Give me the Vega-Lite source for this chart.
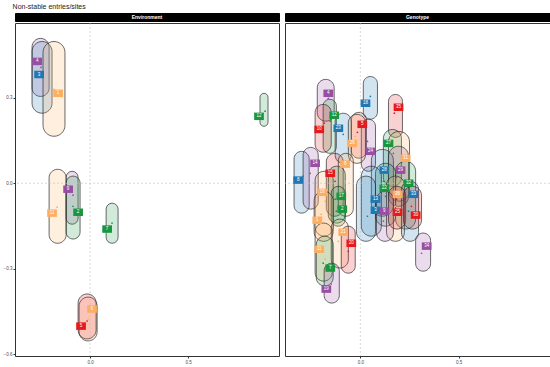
{
  "$schema": "https://vega.github.io/schema/vega-lite/v6.json",
  "padding": {"top": 2, "left": 2, "right": 2, "bottom": 2},
  "title": {"text": "Non-stable entries/sites", "anchor": "start", "fontSize": 7, "fontWeight": "normal", "color": "#222", "font": "Liberation Sans", "offset": 3, "dx": 10},
  "datasets": {
    "ell": [
      {"panel":"Environment","id":4,"x1":-0.296,"x2":-0.209,"y1":0.509,"y2":0.305,"cx":-0.25,"cy":0.407,"lx":-0.270,"ly":0.428},
      {"panel":"Environment","id":3,"x1":-0.296,"x2":-0.194,"y1":0.498,"y2":0.246,"cx":-0.240,"cy":0.372,"lx":-0.260,"ly":0.382},
      {"panel":"Environment","id":1,"x1":-0.240,"x2":-0.128,"y1":0.498,"y2":0.165,"cx":-0.184,"cy":0.330,"lx":-0.163,"ly":0.316},
      {"panel":"Environment","id":12,"x1":0.867,"x2":0.908,"y1":0.316,"y2":0.200,"cx":0.893,"cy":0.253,"lx":0.862,"ly":0.235},
      {"panel":"Environment","id":11,"x1":-0.209,"x2":-0.122,"y1":0.049,"y2":-0.211,"cx":-0.168,"cy":-0.084,"lx":-0.194,"ly":-0.105},
      {"panel":"Environment","id":9,"x1":-0.122,"x2":-0.061,"y1":0.042,"y2":-0.144,"cx":-0.087,"cy":-0.042,"lx":-0.112,"ly":-0.021},
      {"panel":"Environment","id":2,"x1":-0.122,"x2":-0.051,"y1":0.025,"y2":-0.196,"cx":-0.087,"cy":-0.081,"lx":-0.061,"ly":-0.102},
      {"panel":"Environment","id":7,"x1":0.082,"x2":0.143,"y1":-0.070,"y2":-0.211,"cx":0.112,"cy":-0.140,"lx":0.087,"ly":-0.161},
      {"panel":"Environment","id":6,"x1":-0.056,"x2":0.036,"y1":-0.400,"y2":-0.554,"cx":-0.010,"cy":-0.477,"lx":0.010,"ly":-0.442},
      {"panel":"Environment","id":5,"x1":-0.061,"x2":0.031,"y1":-0.389,"y2":-0.547,"cx":-0.015,"cy":-0.484,"lx":-0.046,"ly":-0.502},

      {"panel":"Genotype","id":4,"x1":-0.219,"x2":-0.133,"y1":0.365,"y2":0.218,"cx":-0.163,"cy":0.298,"lx":-0.163,"ly":0.316},
      {"panel":"Genotype","id":18,"x1":0.015,"x2":0.087,"y1":0.375,"y2":0.225,"cx":0.051,"cy":0.305,"lx":0.026,"ly":0.281},
      {"panel":"Genotype","id":35,"x1":0.143,"x2":0.214,"y1":0.312,"y2":0.161,"cx":0.173,"cy":0.246,"lx":0.194,"ly":0.267},
      {"panel":"Genotype","id":12,"x1":-0.189,"x2":-0.122,"y1":0.295,"y2":0.105,"cx":-0.153,"cy":0.218,"lx":-0.133,"ly":0.239},
      {"panel":"Genotype","id":10,"x1":-0.230,"x2":-0.148,"y1":0.277,"y2":0.109,"cx":-0.184,"cy":0.211,"lx":-0.209,"ly":0.189},
      {"panel":"Genotype","id":23,"x1":-0.128,"x2":-0.046,"y1":0.246,"y2":0.070,"cx":-0.087,"cy":0.172,"lx":-0.112,"ly":0.193},
      {"panel":"Genotype","id":5,"x1":-0.046,"x2":0.031,"y1":0.249,"y2":0.088,"cx":-0.015,"cy":0.179,"lx":0.010,"ly":0.207},
      {"panel":"Genotype","id":24,"x1":0.005,"x2":0.077,"y1":0.225,"y2":0.042,"cx":0.036,"cy":0.147,"lx":0.051,"ly":0.112},
      {"panel":"Genotype","id":26,"x1":-0.061,"x2":0.026,"y1":0.242,"y2":0.070,"cx":-0.026,"cy":0.165,"lx":-0.041,"ly":0.140},
      {"panel":"Genotype","id":27,"x1":0.117,"x2":0.209,"y1":0.189,"y2":-0.011,"cx":0.168,"cy":0.105,"lx":0.143,"ly":0.140},
      {"panel":"Genotype","id":31,"x1":0.143,"x2":0.250,"y1":0.182,"y2":-0.063,"cx":0.199,"cy":0.060,"lx":0.230,"ly":0.088},
      {"panel":"Genotype","id":28,"x1":0.056,"x2":0.168,"y1":0.119,"y2":-0.116,"cx":0.117,"cy":0.007,"lx":0.122,"ly":0.046},
      {"panel":"Genotype","id":29,"x1":0.143,"x2":0.245,"y1":0.130,"y2":-0.081,"cx":0.184,"cy":0.021,"lx":0.204,"ly":0.046},
      {"panel":"Genotype","id":32,"x1":0.179,"x2":0.281,"y1":0.077,"y2":-0.161,"cx":0.219,"cy":-0.046,"lx":0.245,"ly":0.0},
      {"panel":"Genotype","id":22,"x1":0.077,"x2":0.179,"y1":0.070,"y2":-0.151,"cx":0.128,"cy":-0.046,"lx":0.122,"ly":-0.018},
      {"panel":"Genotype","id":36,"x1":0.133,"x2":0.224,"y1":0.025,"y2":-0.204,"cx":0.179,"cy":-0.081,"lx":0.189,"ly":-0.039},
      {"panel":"Genotype","id":33,"x1":0.209,"x2":0.296,"y1":0.007,"y2":-0.204,"cx":0.245,"cy":-0.098,"lx":0.270,"ly":-0.039},
      {"panel":"Genotype","id":13,"x1":0.005,"x2":0.107,"y1":0.060,"y2":-0.186,"cx":0.056,"cy":-0.063,"lx":0.077,"ly":-0.056},
      {"panel":"Genotype","id":3,"x1":-0.020,"x2":0.077,"y1":0.025,"y2":-0.204,"cx":0.036,"cy":-0.116,"lx":0.077,"ly":-0.095},
      {"panel":"Genotype","id":9,"x1":0.082,"x2":0.168,"y1":-0.028,"y2":-0.204,"cx":0.117,"cy":-0.133,"lx":0.122,"ly":-0.098},
      {"panel":"Genotype","id":25,"x1":0.143,"x2":0.230,"y1":-0.011,"y2":-0.161,"cx":0.184,"cy":-0.056,"lx":0.189,"ly":-0.102},
      {"panel":"Genotype","id":30,"x1":0.219,"x2":0.311,"y1":-0.011,"y2":-0.161,"cx":0.260,"cy":-0.081,"lx":0.281,"ly":-0.112},
      {"panel":"Genotype","id":34,"x1":0.281,"x2":0.357,"y1":-0.175,"y2":-0.309,"cx":0.311,"cy":-0.246,"lx":0.337,"ly":-0.221},
      {"panel":"Genotype","id":8,"x1":-0.337,"x2":-0.260,"y1":0.112,"y2":-0.105,"cx":-0.291,"cy":0.025,"lx":-0.316,"ly":0.011},
      {"panel":"Genotype","id":14,"x1":-0.291,"x2":-0.214,"y1":0.126,"y2":-0.091,"cx":-0.255,"cy":0.035,"lx":-0.230,"ly":0.070},
      {"panel":"Genotype","id":15,"x1":-0.173,"x2":-0.087,"y1":0.105,"y2":-0.116,"cx":-0.128,"cy":0.007,"lx":-0.153,"ly":0.035},
      {"panel":"Genotype","id":6,"x1":-0.112,"x2":-0.036,"y1":0.105,"y2":-0.116,"cx":-0.077,"cy":0.007,"lx":-0.077,"ly":0.067},
      {"panel":"Genotype","id":16,"x1":-0.230,"x2":-0.138,"y1":0.042,"y2":-0.186,"cx":-0.179,"cy":-0.063,"lx":-0.194,"ly":-0.032},
      {"panel":"Genotype","id":17,"x1":-0.163,"x2":-0.077,"y1":0.060,"y2":-0.140,"cx":-0.128,"cy":-0.056,"lx":-0.097,"ly":-0.046},
      {"panel":"Genotype","id":2,"x1":-0.148,"x2":-0.077,"y1":-0.011,"y2":-0.151,"cx":-0.122,"cy":-0.098,"lx":-0.092,"ly":-0.091},
      {"panel":"Genotype","id":1,"x1":-0.235,"x2":-0.138,"y1":-0.028,"y2":-0.204,"cx":-0.199,"cy":-0.109,"lx":-0.219,"ly":-0.130},
      {"panel":"Genotype","id":21,"x1":-0.148,"x2":-0.061,"y1":-0.126,"y2":-0.298,"cx":-0.112,"cy":-0.204,"lx":-0.087,"ly":-0.172},
      {"panel":"Genotype","id":20,"x1":-0.097,"x2":-0.026,"y1":-0.151,"y2":-0.316,"cx":-0.061,"cy":-0.239,"lx":-0.046,"ly":-0.211},
      {"panel":"Genotype","id":11,"x1":-0.230,"x2":-0.143,"y1":-0.140,"y2":-0.344,"cx":-0.179,"cy":-0.267,"lx":-0.209,"ly":-0.232},
      {"panel":"Genotype","id":7,"x1":-0.224,"x2":-0.138,"y1":-0.186,"y2":-0.361,"cx":-0.189,"cy":-0.281,"lx":-0.153,"ly":-0.298},
      {"panel":"Genotype","id":19,"x1":-0.184,"x2":-0.107,"y1":-0.281,"y2":-0.421,"cx":-0.148,"cy":-0.354,"lx":-0.173,"ly":-0.372}
    ]
  },
  "spacing": 4,
  "hconcat": [
    {
      "spacing": 0,
      "vconcat": [
        {
          "width": 264, "height": 8,
          "data": {"values": [{"p": "Environment"}]},
          "view": {"fill": "#000", "stroke": "#000"},
          "mark": {"type": "text", "color": "white", "fontSize": 5, "fontWeight": "bold", "font": "Liberation Sans"},
          "encoding": {"text": {"field": "p"}}
        },
        {
          "width": 264, "height": 333,
          "data": {"name": "ell"},
          "transform": [{"filter": "datum.panel === 'Environment'"}],
          "layer": [
            {
              "mark": {"type": "rect", "cornerRadius": 300, "fillOpacity": 0.2, "stroke": "#2b2b2b", "strokeWidth": 0.7},
              "encoding": {
                "x": {"field": "x1", "type": "quantitative", "scale": {"domain": [-0.383, 0.964], "nice": false, "zero": false}, "axis": {"values": [0, 0.5], "format": ".1f", "title": null}},
                "x2": {"field": "x2"},
                "y": {"field": "y1", "type": "quantitative", "scale": {"domain": [-0.607, 0.563], "nice": false, "zero": false}, "axis": {"values": [-0.6, -0.3, 0, 0.3], "format": ".1f", "title": null}},
                "y2": {"field": "y2"},
                "fill": {"field": "id", "type": "nominal", "scale": {"domain": [1,2,3,4,5,6,7,8,9,10,11,12,13,14,15,16,17,18,19,20,21,22,23,24,25,26,27,28,29,30,31,32,33,34,35,36], "range": ["#FDAE61", "#1A9641", "#1F78B4", "#984EA3", "#E41A1C"]}, "legend": null}
              }
            },
            {
              "data": {"values": [{}]},
              "mark": {"type": "rule", "strokeDash": [2, 2], "color": "#c0c0c0", "strokeWidth": 0.6},
              "encoding": {"x": {"datum": 0, "type": "quantitative"}}
            },
            {
              "data": {"values": [{}]},
              "mark": {"type": "rule", "strokeDash": [2, 2], "color": "#c0c0c0", "strokeWidth": 0.6},
              "encoding": {"y": {"datum": 0, "type": "quantitative"}}
            },
            {
              "mark": {"type": "circle", "size": 3, "opacity": 1},
              "encoding": {
                "x": {"field": "cx", "type": "quantitative"},
                "y": {"field": "cy", "type": "quantitative"},
                "color": {"field": "id", "type": "nominal", "scale": {"domain": [1,2,3,4,5,6,7,8,9,10,11,12,13,14,15,16,17,18,19,20,21,22,23,24,25,26,27,28,29,30,31,32,33,34,35,36], "range": ["#FDAE61", "#1A9641", "#1F78B4", "#984EA3", "#E41A1C"]}, "legend": null}
              }
            },
            {
              "mark": {"type": "point", "shape": "M-1.3,-1H1.3V1H-1.3Z", "size": 56, "filled": true, "opacity": 1},
              "encoding": {
                "x": {"field": "lx", "type": "quantitative"},
                "y": {"field": "ly", "type": "quantitative"},
                "color": {"field": "id", "type": "nominal", "scale": {"domain": [1,2,3,4,5,6,7,8,9,10,11,12,13,14,15,16,17,18,19,20,21,22,23,24,25,26,27,28,29,30,31,32,33,34,35,36], "range": ["#FDAE61", "#1A9641", "#1F78B4", "#984EA3", "#E41A1C"]}, "legend": null}
              }
            },
            {
              "mark": {"type": "text", "color": "white", "fontSize": 4.5, "font": "Liberation Sans", "baseline": "middle"},
              "encoding": {
                "x": {"field": "lx", "type": "quantitative"},
                "y": {"field": "ly", "type": "quantitative"},
                "text": {"field": "id"}
              }
            }
          ]
        }
      ]
    },
    {
      "spacing": 0,
      "vconcat": [
        {
          "width": 265, "height": 8,
          "data": {"values": [{"p": "Genotype"}]},
          "view": {"fill": "#000", "stroke": "#000"},
          "mark": {"type": "text", "color": "white", "fontSize": 5, "fontWeight": "bold", "font": "Liberation Sans"},
          "encoding": {"text": {"field": "p"}}
        },
        {
          "width": 265, "height": 333,
          "data": {"name": "ell"},
          "transform": [{"filter": "datum.panel === 'Genotype'"}],
          "layer": [
            {
              "mark": {"type": "rect", "cornerRadius": 300, "fillOpacity": 0.2, "stroke": "#2b2b2b", "strokeWidth": 0.7},
              "encoding": {
                "x": {"field": "x1", "type": "quantitative", "scale": {"domain": [-0.383, 0.964], "nice": false, "zero": false}, "axis": {"values": [0, 0.5], "format": ".1f", "title": null}},
                "x2": {"field": "x2"},
                "y": {"field": "y1", "type": "quantitative", "scale": {"domain": [-0.607, 0.563], "nice": false, "zero": false}, "axis": null},
                "y2": {"field": "y2"},
                "fill": {"field": "id", "type": "nominal", "scale": {"domain": [1,2,3,4,5,6,7,8,9,10,11,12,13,14,15,16,17,18,19,20,21,22,23,24,25,26,27,28,29,30,31,32,33,34,35,36], "range": ["#FDAE61", "#1A9641", "#1F78B4", "#984EA3", "#E41A1C"]}, "legend": null}
              }
            },
            {
              "data": {"values": [{}]},
              "mark": {"type": "rule", "strokeDash": [2, 2], "color": "#c0c0c0", "strokeWidth": 0.6},
              "encoding": {"x": {"datum": 0, "type": "quantitative"}}
            },
            {
              "data": {"values": [{}]},
              "mark": {"type": "rule", "strokeDash": [2, 2], "color": "#c0c0c0", "strokeWidth": 0.6},
              "encoding": {"y": {"datum": 0, "type": "quantitative"}}
            },
            {
              "mark": {"type": "circle", "size": 3, "opacity": 1},
              "encoding": {
                "x": {"field": "cx", "type": "quantitative"},
                "y": {"field": "cy", "type": "quantitative"},
                "color": {"field": "id", "type": "nominal", "scale": {"domain": [1,2,3,4,5,6,7,8,9,10,11,12,13,14,15,16,17,18,19,20,21,22,23,24,25,26,27,28,29,30,31,32,33,34,35,36], "range": ["#FDAE61", "#1A9641", "#1F78B4", "#984EA3", "#E41A1C"]}, "legend": null}
              }
            },
            {
              "mark": {"type": "point", "shape": "M-1.3,-1H1.3V1H-1.3Z", "size": 56, "filled": true, "opacity": 1},
              "encoding": {
                "x": {"field": "lx", "type": "quantitative"},
                "y": {"field": "ly", "type": "quantitative"},
                "color": {"field": "id", "type": "nominal", "scale": {"domain": [1,2,3,4,5,6,7,8,9,10,11,12,13,14,15,16,17,18,19,20,21,22,23,24,25,26,27,28,29,30,31,32,33,34,35,36], "range": ["#FDAE61", "#1A9641", "#1F78B4", "#984EA3", "#E41A1C"]}, "legend": null}
              }
            },
            {
              "mark": {"type": "text", "color": "white", "fontSize": 4.5, "font": "Liberation Sans", "baseline": "middle"},
              "encoding": {
                "x": {"field": "lx", "type": "quantitative"},
                "y": {"field": "ly", "type": "quantitative"},
                "text": {"field": "id"}
              }
            }
          ]
        }
      ]
    }
  ],
  "config": {
    "font": "Liberation Sans",
    "view": {"stroke": "#333", "strokeWidth": 1},
    "axis": {"grid": false, "domain": false, "labelFontSize": 4.5, "labelColor": "#4d4d4d", "tickColor": "#333", "tickSize": 2, "labelPadding": 1}
  }
}
